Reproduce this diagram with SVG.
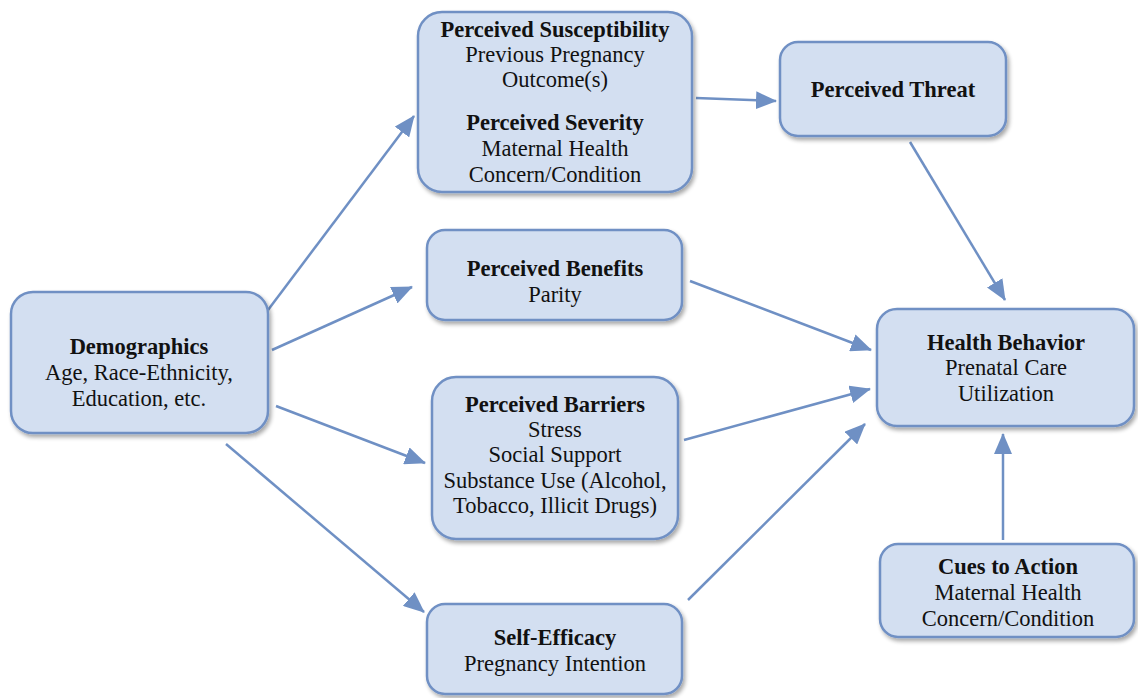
<svg xmlns="http://www.w3.org/2000/svg" width="1138" height="698" viewBox="0 0 1138 698">
<defs>
<filter id="sh" x="-10%" y="-10%" width="130%" height="130%">
<feGaussianBlur in="SourceAlpha" stdDeviation="2"/>
<feOffset dx="2" dy="3" result="b"/>
<feComponentTransfer><feFuncA type="linear" slope="0.35"/></feComponentTransfer>
<feMerge><feMergeNode/><feMergeNode in="SourceGraphic"/></feMerge>
</filter>
<marker id="ah" markerUnits="userSpaceOnUse" markerWidth="22" markerHeight="18" refX="20" refY="9" orient="auto">
<path d="M0,0 L21,9 L0,18 Z" fill="#6f90c4"/>
</marker>
</defs>
<style>
.box{fill:#d3dff1;stroke:#7090c4;stroke-width:2.5;filter:url(#sh)}
text{font-family:"Liberation Serif","Times New Roman",serif;font-size:22.5px;fill:#111;text-anchor:middle}
.b{font-weight:bold}
.c{stroke:#6f90c4;stroke-width:2.5;fill:none;marker-end:url(#ah)}
</style>
<rect width="1138" height="698" fill="#fff"/>
<g id="connectors">
<line class="c" x1="268" y1="310" x2="414" y2="116"/>
<line class="c" x1="272" y1="350" x2="412" y2="287"/>
<line class="c" x1="276" y1="406" x2="425" y2="463"/>
<line class="c" x1="226" y1="444" x2="424" y2="612"/>
<line class="c" x1="696" y1="98" x2="776" y2="101"/>
<line class="c" x1="910" y1="142" x2="1005" y2="300"/>
<line class="c" x1="690" y1="281" x2="871" y2="350"/>
<line class="c" x1="684" y1="440" x2="870" y2="389"/>
<line class="c" x1="688" y1="600" x2="865" y2="424"/>
<line class="c" x1="1003" y1="540" x2="1003" y2="434"/>
</g>
<g id="susceptibility">
<rect class="box" x="418" y="12" width="274" height="180" rx="24"/>
<text x="555" y="37" class="b">Perceived Susceptibility</text>
<text x="555" y="62">Previous Pregnancy</text>
<text x="555" y="87">Outcome(s)</text>
<text x="555" y="130" class="b">Perceived Severity</text>
<text x="555" y="156">Maternal Health</text>
<text x="555" y="182">Concern/Condition</text>
</g>
<g id="threat">
<rect class="box" x="780" y="42" width="226" height="94" rx="18"/>
<text x="893" y="97" class="b">Perceived Threat</text>
</g>
<g id="benefits">
<rect class="box" x="427" y="230" width="255" height="90" rx="18"/>
<text x="555" y="276" class="b">Perceived Benefits</text>
<text x="555" y="302">Parity</text>
</g>
<g id="demographics">
<rect class="box" x="11" y="292" width="257" height="141" rx="22"/>
<text x="139" y="354" class="b">Demographics</text>
<text x="139" y="380">Age, Race-Ethnicity,</text>
<text x="139" y="406">Education, etc.</text>
</g>
<g id="health-behavior">
<rect class="box" x="877" y="309" width="257" height="117" rx="20"/>
<text x="1006" y="350" class="b">Health Behavior</text>
<text x="1006" y="375">Prenatal Care</text>
<text x="1006" y="401">Utilization</text>
</g>
<g id="barriers">
<rect class="box" x="432" y="377" width="246" height="162" rx="24"/>
<text x="555" y="412" class="b">Perceived Barriers</text>
<text x="555" y="437">Stress</text>
<text x="555" y="462">Social Support</text>
<text x="555" y="488">Substance Use (Alcohol,</text>
<text x="555" y="513">Tobacco, Illicit Drugs)</text>
</g>
<g id="cues">
<rect class="box" x="880" y="544" width="254" height="93" rx="18"/>
<text x="1008" y="574" class="b">Cues to Action</text>
<text x="1008" y="600">Maternal Health</text>
<text x="1008" y="626">Concern/Condition</text>
</g>
<g id="self-efficacy">
<rect class="box" x="427" y="604" width="255" height="90" rx="18"/>
<text x="555" y="645" class="b">Self-Efficacy</text>
<text x="555" y="671">Pregnancy Intention</text>
</g>
</svg>
